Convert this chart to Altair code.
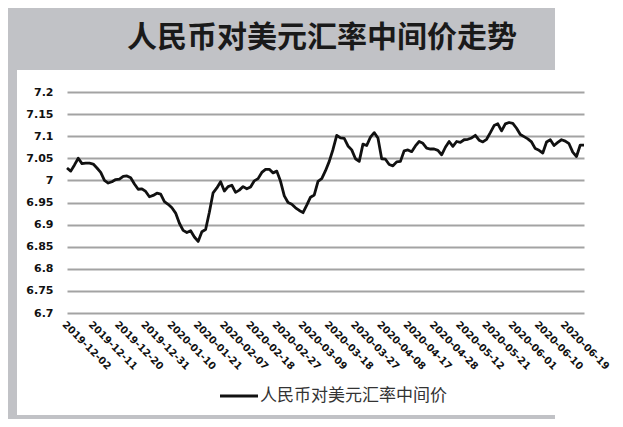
import altair as alt
import pandas as pd

title_text = "人民币对美元汇率中间价走势"
series_name = "人民币对美元汇率中间价"

dates = [
    "2019-12-02", "2019-12-03", "2019-12-04", "2019-12-05", "2019-12-06",
    "2019-12-09", "2019-12-10", "2019-12-11", "2019-12-12", "2019-12-13",
    "2019-12-16", "2019-12-17", "2019-12-18", "2019-12-19", "2019-12-20",
    "2019-12-23", "2019-12-24", "2019-12-25", "2019-12-26", "2019-12-27",
    "2019-12-30", "2019-12-31",
    "2020-01-02", "2020-01-03", "2020-01-06", "2020-01-07", "2020-01-08", "2020-01-09", "2020-01-10",
    "2020-01-13", "2020-01-14", "2020-01-15", "2020-01-16", "2020-01-17", "2020-01-20", "2020-01-21",
    "2020-01-22", "2020-01-23",
    "2020-02-03", "2020-02-04", "2020-02-05", "2020-02-06", "2020-02-07",
    "2020-02-10", "2020-02-11", "2020-02-12", "2020-02-13", "2020-02-14", "2020-02-17", "2020-02-18",
    "2020-02-19", "2020-02-20", "2020-02-21", "2020-02-24", "2020-02-25", "2020-02-26", "2020-02-27",
    "2020-02-28", "2020-03-02", "2020-03-03", "2020-03-04", "2020-03-05", "2020-03-06", "2020-03-09",
    "2020-03-10", "2020-03-11", "2020-03-12", "2020-03-13", "2020-03-16", "2020-03-17", "2020-03-18",
    "2020-03-19", "2020-03-20", "2020-03-23", "2020-03-24", "2020-03-25", "2020-03-26", "2020-03-27",
    "2020-03-30", "2020-03-31", "2020-04-01", "2020-04-02", "2020-04-03", "2020-04-07", "2020-04-08",
    "2020-04-09", "2020-04-10", "2020-04-13", "2020-04-14", "2020-04-15", "2020-04-16", "2020-04-17",
    "2020-04-20", "2020-04-21", "2020-04-22", "2020-04-23", "2020-04-24", "2020-04-27", "2020-04-28",
    "2020-04-29", "2020-04-30", "2020-05-06", "2020-05-07", "2020-05-08", "2020-05-11", "2020-05-12",
    "2020-05-13", "2020-05-14", "2020-05-15", "2020-05-18", "2020-05-19", "2020-05-20", "2020-05-21",
    "2020-05-22", "2020-05-25", "2020-05-26", "2020-05-27", "2020-05-28", "2020-05-29", "2020-06-01",
    "2020-06-02", "2020-06-03", "2020-06-04", "2020-06-05", "2020-06-08", "2020-06-09", "2020-06-10",
    "2020-06-11", "2020-06-12", "2020-06-15", "2020-06-16", "2020-06-17", "2020-06-18", "2020-06-19",
    "2020-06-22", "2020-06-23", "2020-06-24", "2020-06-29", "2020-06-30",
]

rates = [
    7.028, 7.021, 7.035, 7.050, 7.038, 7.039, 7.039, 7.037, 7.028, 7.018,
    7.000, 6.994, 6.997, 7.002, 7.003, 7.009, 7.010, 7.006, 6.992, 6.980,
    6.981, 6.975, 6.963, 6.966, 6.971, 6.969, 6.952, 6.946, 6.938, 6.926,
    6.903, 6.887, 6.882, 6.886, 6.872, 6.862, 6.884, 6.889, 6.928, 6.972,
    6.983, 6.997, 6.976, 6.986, 6.989, 6.973, 6.978, 6.986, 6.981, 6.985,
    6.999, 7.004, 7.018, 7.025, 7.025, 7.017, 7.021, 6.998, 6.965, 6.950,
    6.946, 6.938, 6.932, 6.927, 6.944, 6.962, 6.967, 6.998, 7.004, 7.022,
    7.043, 7.070, 7.102, 7.096, 7.095, 7.078, 7.069, 7.049, 7.043, 7.082,
    7.079, 7.098, 7.108, 7.096, 7.049, 7.048, 7.036, 7.033, 7.042, 7.043,
    7.067, 7.069, 7.065, 7.078, 7.088, 7.084, 7.073, 7.071, 7.071, 7.068,
    7.058, 7.075, 7.088, 7.077, 7.088, 7.086, 7.092, 7.093, 7.096, 7.102,
    7.091, 7.087, 7.093, 7.108, 7.124, 7.128, 7.112, 7.128, 7.131, 7.129,
    7.118, 7.104, 7.099, 7.094, 7.087, 7.072, 7.068, 7.062, 7.087, 7.092,
    7.079, 7.086, 7.092, 7.089, 7.083, 7.064, 7.054, 7.080, 7.080,
]

tick_labels = [
    "2019-12-02", "2019-12-11", "2019-12-20", "2019-12-31", "2020-01-10",
    "2020-01-21", "2020-02-07", "2020-02-18", "2020-02-27", "2020-03-09",
    "2020-03-18", "2020-03-27", "2020-04-08", "2020-04-17", "2020-04-28",
    "2020-05-12", "2020-05-21", "2020-06-01", "2020-06-10", "2020-06-19",
]

y_ticks = [6.7, 6.75, 6.8, 6.85, 6.9, 6.95, 7.0, 7.05, 7.1, 7.15, 7.2]

df = pd.DataFrame({"date": dates, "rate": rates})

PW, PH = 517, 221
PAD = {"left": 59, "top": 84, "right": 31, "bottom": 106}
GRAY = "#c1c2c6"
one = alt.Data(values=[{"k": 1}])

def box(x1, x2, y1, y2, color=GRAY):
    return alt.Chart(one).mark_rect(color=color).encode(
        x=alt.value(x1), x2=alt.value(x2), y=alt.value(y1), y2=alt.value(y2)
    )

header = box(-59, 488, -84, -22)
left_strip = box(-59, -50, -84, 327)
bottom_strip = box(-59, 488, 323, 327)

title = alt.Chart(one).mark_text(
    font="Noto Sans CJK SC", fontSize=30, fontWeight="bold", color="#1a1a1a",
    align="center", baseline="middle",
).encode(x=alt.value(255), y=alt.value(-54), text=alt.value(title_text))

line = alt.Chart(df).mark_line(color="#111111", strokeWidth=2.8, strokeJoin="round").encode(
    x=alt.X(
        "date:O",
        sort=None,
        scale=alt.Scale(type="point", domain=dates, padding=0),
        axis=alt.Axis(
            values=tick_labels, labelAngle=45, labelFont="DejaVu Sans",
            labelFontWeight="bold", labelFontSize=10, labelColor="#111111",
            labelPadding=6, ticks=False, domain=False, grid=False, title=None,
            labelOverlap=False, labelBound=False, labelAlign="left", labelBaseline="top",
        ),
    ),
    y=alt.Y(
        "rate:Q",
        scale=alt.Scale(domain=[6.7, 7.2], nice=False, zero=False),
        axis=alt.Axis(
            values=y_ticks, format=".2~f", labelFont="DejaVu Sans",
            labelFontWeight="bold", labelFontSize=11, labelColor="#111111",
            labelPadding=14, ticks=False, domain=False, grid=True,
            gridColor="#a3a3a3", gridWidth=2, title=None,
        ),
    ),
)

legend_line = alt.Chart(one).mark_rule(color="#111111", strokeWidth=3).encode(
    x=alt.value(153), x2=alt.value(191), y=alt.value(304)
)
legend_text = alt.Chart(one).mark_text(
    font="Noto Sans CJK SC", fontSize=17, color="#333333", align="left", baseline="middle",
).encode(x=alt.value(193), y=alt.value(304), text=alt.value(series_name))

chart = alt.layer(
    header, left_strip, bottom_strip, title, line, legend_line, legend_text
).properties(
    width=PW, height=PH, padding=PAD,
    autosize=alt.AutoSizeParams(type="none"),
    background="white",
).configure_view(stroke=None)

chart.save("out.html", embed_options={"renderer": "svg", "actions": False})
